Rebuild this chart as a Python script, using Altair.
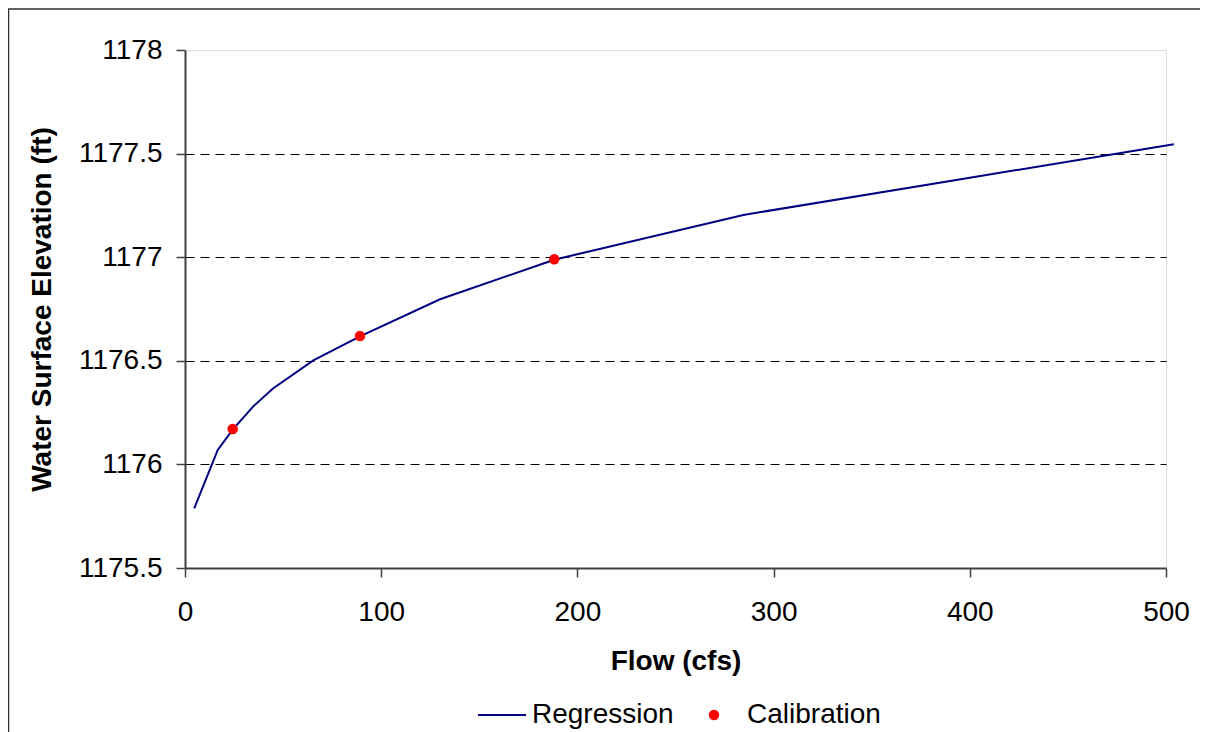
import altair as alt
import pandas as pd

# ---- data ----
reg_flow = [4.7, 16.7, 24.3, 34.8, 44.7, 65.4, 89.2, 130.0, 188.2, 284.6, 390.0, 504.0]
reg_elev = [1175.788, 1176.070, 1176.168, 1176.280, 1176.365, 1176.502, 1176.618, 1176.797, 1176.988, 1177.204, 1177.368, 1177.545]
cal_flow = [24.3, 89.2, 188.2]
cal_elev = [1176.171, 1176.620, 1176.990]
x_ticks = [0, 100, 200, 300, 400, 500]
y_ticks = [1175.5, 1176, 1176.5, 1177, 1177.5, 1178]

FONT = "Liberation Sans"
W, H = 981, 518
FS = 28

reg = pd.DataFrame({"flow": reg_flow, "elev": reg_elev, "series": ["Regression"] * len(reg_flow)})
cal = pd.DataFrame({"flow": cal_flow, "elev": cal_elev, "kind": ["Calibration"] * len(cal_flow)})

x_scale = alt.Scale(domain=[0, 500], nice=False, zero=False)
y_scale = alt.Scale(domain=[1175.5, 1178], nice=False, zero=False)

x_axis = alt.Axis(
    values=x_ticks, title="Flow (cfs)", grid=False, labelFlush=False,
    labelFont=FONT, labelFontSize=FS, labelColor="black", labelPadding=21,
    tickSize=9, tickColor="#404040", tickWidth=1.5,
    domainColor="#404040", domainWidth=2,
    titleFont=FONT, titleFontSize=FS, titleFontWeight="bold", titleColor="black",
    titleX=490.5, titleY=93, titleAlign="center", titleBaseline="middle",
)
y_axis = alt.Axis(
    values=y_ticks, format="~g", title="Water Surface Elevation (ft)", labelFlush=False,
    labelFont=FONT, labelFontSize=FS, labelColor="black", labelPadding=14,
    tickSize=9, tickColor="#404040", tickWidth=1.5,
    domainColor="#404040", domainWidth=2,
    grid=True, gridColor="black", gridWidth=1, gridDash=[9, 6],
    gridOpacity={"condition": {"test": "datum.value === 1178 || datum.value === 1175.5", "value": 0}, "value": 1},
    titleFont=FONT, titleFontSize=FS, titleFontWeight="bold", titleColor="black",
    titleX=-143, titleY=259, titleAlign="center", titleBaseline="middle", titleAngle=-90,
)

line = alt.Chart(reg).mark_line(strokeWidth=2).encode(
    x=alt.X("flow:Q", scale=x_scale, axis=x_axis),
    y=alt.Y("elev:Q", scale=y_scale, axis=y_axis),
    color=alt.Color(
        "series:N",
        scale=alt.Scale(domain=["Regression"], range=["#000080"]),
        legend=alt.Legend(
            orient="none", legendX=292, legendY=640, title=None, padding=0,
            symbolType="stroke", symbolSize=2304, symbolStrokeWidth=2,
            labelFont=FONT, labelFontSize=FS, labelColor="black", labelOffset=5, labelLimit=0,
        ),
    ),
)

pts = alt.Chart(cal).mark_circle(size=110, opacity=1).encode(
    x=alt.X("flow:Q", scale=x_scale),
    y=alt.Y("elev:Q", scale=y_scale),
    fill=alt.Fill(
        "kind:N",
        scale=alt.Scale(domain=["Calibration"], range=["#ff0000"]),
        legend=alt.Legend(
            orient="none", legendX=515, legendY=651, title=None, padding=0,
            symbolType="circle", symbolSize=110, symbolStrokeWidth=0, symbolOpacity=1,
            labelFont=FONT, labelFontSize=FS, labelColor="black", labelOffset=19, labelLimit=0,
        ),
    ),
)

# outer chart frame: only its top and left edges fall inside the picture
one = pd.DataFrame({"a": [0]})
frame_top = alt.Chart(one).mark_rule(stroke="#303030", strokeWidth=1.5).encode(
    x=alt.value(-177), x2=alt.value(1300), y=alt.value(-41)
)
frame_left = alt.Chart(one).mark_rule(stroke="#303030", strokeWidth=1.5).encode(
    x=alt.value(-176.5), y=alt.value(-41), y2=alt.value(900)
)

chart = alt.layer(frame_top, frame_left, line, pts).properties(
    width=W, height=H,
    autosize=alt.AutoSizeParams(type="none"),
    padding={"left": 177, "top": 42, "right": 34, "bottom": 164},
).configure_view(
    stroke="#808080", strokeWidth=2
).configure(background="white")

chart.save("out.html", embed_options={"renderer": "svg", "actions": False})
